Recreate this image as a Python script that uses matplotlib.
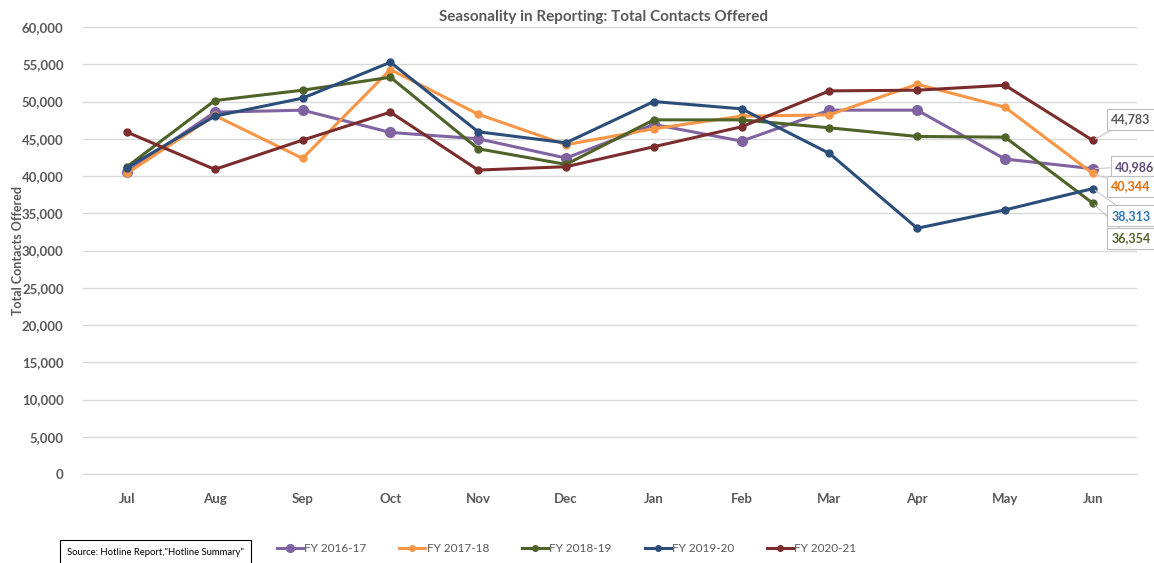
import numpy as np
import matplotlib
matplotlib.use("Agg")
import matplotlib.pyplot as plt
from matplotlib.ticker import FuncFormatter

months = ["Jul", "Aug", "Sep", "Oct", "Nov", "Dec", "Jan", "Feb", "Mar", "Apr", "May", "Jun"]

fy1617 = [40580, 48570, 48840, 45850, 45000, 42410, 46920, 44690, 48840, 48840, 42280, 40986]
fy1718 = [40360, 48130, 42370, 54290, 48300, 44200, 46340, 48040, 48210, 52320, 49240, 40344]
fy1819 = [41250, 50130, 51520, 53260, 43660, 41560, 47540, 47540, 46470, 45310, 45220, 36354]
fy1920 = [41120, 48040, 50450, 55270, 45940, 44460, 50000, 49020, 43040, 32990, 35450, 38313]
fy2021 = [45890, 40890, 44820, 48570, 40800, 41250, 43930, 46610, 51430, 51520, 52190, 44783]

series_names = ["FY 2016-17", "FY 2017-18", "FY 2018-19", "FY 2019-20", "FY 2020-21"]
series_vals = [fy1617, fy1718, fy1819, fy1920, fy2021]
colors = ["#8064A2", "#F79646", "#4F6228", "#2A4D79", "#7B2C2C"]
label_colors = ["#604A7B", "#E46C0A", "#4F6228", "#2E75B6", "#595959"]
# label offsets (pixels) for the June data labels
label_offsets = [(42, 2), (38, -13), (38, -35), (38, -27), (38, 21)]

plt.rcParams["font.family"] = ["Lato", "DejaVu Sans"]
grey = "#595959"

fig = plt.figure(figsize=(11.54, 5.63), dpi=100)
ax = fig.add_axes([0.072, 0.158, 0.913, 0.794])

x = np.arange(len(months))
for name, vals, c in zip(series_names, series_vals, colors):
    ms = 7 if name == "FY 2016-17" else 5
    ax.plot(x, vals, color=c, lw=2.2, marker="o", ms=ms, label=name, zorder=3)

for vals, c, lc, off in zip(series_vals, colors, label_colors, label_offsets):
    ax.annotate(f"{vals[-1]:,}", xy=(x[-1], vals[-1]), xytext=off,
                textcoords="offset pixels", ha="center", va="center",
                fontsize=9, fontweight="bold", color=lc,
                bbox=dict(boxstyle="square,pad=0.35", fc="white", ec="#BFBFBF", lw=0.8),
                arrowprops=dict(arrowstyle="-", color="#C8C8C8", lw=0.8,
                                shrinkA=0, shrinkB=2),
                annotation_clip=False, zorder=5)

ax.set_xlim(-0.5, 11.5)
ax.set_ylim(0, 60000)
ax.set_yticks(np.arange(0, 60001, 5000))
ax.yaxis.set_major_formatter(FuncFormatter(lambda v, p: f"{int(v):,}"))
ax.set_xticks(x)
ax.set_xticklabels(months)
ax.grid(axis="y", color="#D9D9D9", lw=1)
ax.set_axisbelow(True)
for s in ["top", "right", "left"]:
    ax.spines[s].set_visible(False)
ax.spines["bottom"].set_color("#D9D9D9")
ax.tick_params(axis="both", length=0, labelsize=9.5, labelcolor=grey)
ax.tick_params(axis="x", pad=14)
ax.tick_params(axis="y", pad=14)
for t in ax.get_xticklabels() + ax.get_yticklabels():
    t.set_fontweight("bold")

ax.set_ylabel("Total Contacts Offered", fontsize=9, fontweight="bold", color=grey, labelpad=4)
ax.yaxis.set_label_coords(-0.056, 0.5)
fig.text(0.523, 0.97, "Seasonality in Reporting: Total Contacts Offered",
         ha="center", va="center", fontsize=11, fontweight="bold", color=grey)

fig.legend(loc="center", bbox_to_anchor=(0.491, 0.025), ncol=5, frameon=False,
           fontsize=8.5, handlelength=2.2, handletextpad=0.1, columnspacing=2.8,
           labelcolor=grey, markerscale=0.8)

fig.text(0.058, 0.0195, "Source: Hotline Report,\"Hotline Summary\"", ha="left", va="center",
         fontsize=6.8, color="black",
         bbox=dict(boxstyle="square,pad=0.75", fc="white", ec="black", lw=0.8))

fig.savefig("out.png", dpi=100)
